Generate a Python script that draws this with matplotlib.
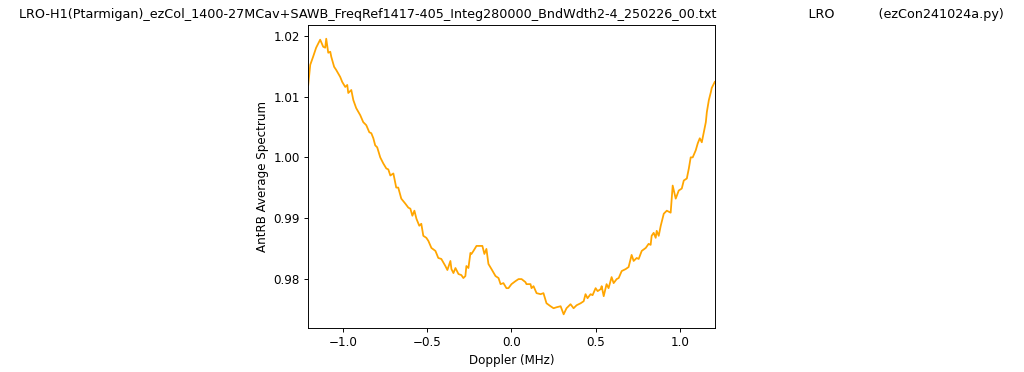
import numpy as np
import matplotlib
matplotlib.use('Agg')
import matplotlib.pyplot as plt

# Doppler (MHz) and AntRB average spectrum
doppler = [-1.208, -1.196, -1.179, -1.161, -1.137, -1.119, -1.107, -1.101, -1.089, -1.077,
           -1.071, -1.054, -1.042, -1.018, -1.006, -0.988, -0.976, -0.970, -0.952, -0.940,
           -0.923, -0.899, -0.881, -0.863, -0.845, -0.833, -0.821, -0.810, -0.798, -0.780,
           -0.762, -0.744, -0.732, -0.720, -0.702, -0.685, -0.673, -0.655, -0.631, -0.613,
           -0.601, -0.589, -0.577, -0.565, -0.548, -0.536, -0.524, -0.506, -0.494, -0.476,
           -0.452, -0.435, -0.417, -0.393, -0.381, -0.363, -0.357, -0.345, -0.333, -0.315,
           -0.298, -0.286, -0.274, -0.268, -0.256, -0.244, -0.238, -0.226, -0.208, -0.185,
           -0.173, -0.161, -0.149, -0.137, -0.119, -0.095, -0.077, -0.065, -0.048, -0.030,
           -0.018, 0.000, 0.024, 0.042, 0.060, 0.083, 0.089, 0.113, 0.119, 0.131,
           0.149, 0.173, 0.190, 0.208, 0.232, 0.250, 0.268, 0.292, 0.310, 0.327,
           0.351, 0.369, 0.387, 0.411, 0.429, 0.440, 0.452, 0.470, 0.482, 0.500,
           0.512, 0.530, 0.536, 0.548, 0.565, 0.577, 0.595, 0.607, 0.625, 0.637,
           0.655, 0.679, 0.696, 0.714, 0.726, 0.744, 0.756, 0.774, 0.798, 0.815,
           0.827, 0.833, 0.845, 0.857, 0.863, 0.875, 0.887, 0.905, 0.923, 0.946,
           0.958, 0.976, 0.994, 1.012, 1.024, 1.042, 1.054, 1.065, 1.077, 1.095,
           1.107, 1.119, 1.131, 1.143, 1.155, 1.161, 1.173, 1.185, 1.190, 1.208]
spectrum = [1.01190, 1.01521, 1.01653, 1.01802, 1.01934, 1.01818, 1.01802, 1.01950, 1.01719, 1.01736,
            1.01653, 1.01488, 1.01438, 1.01322, 1.01240, 1.01157, 1.01190, 1.01058, 1.01107, 1.00942,
            1.00810, 1.00694, 1.00579, 1.00529, 1.00413, 1.00397, 1.00314, 1.00198, 1.00165, 1.00000,
            0.99901, 0.99818, 0.99802, 0.99702, 0.99736, 0.99504, 0.99504, 0.99322, 0.99240, 0.99174,
            0.99157, 0.99041, 0.99124, 0.98992, 0.98876, 0.98909, 0.98711, 0.98678, 0.98628, 0.98512,
            0.98463, 0.98347, 0.98331, 0.98215, 0.98149, 0.98298, 0.98165, 0.98099, 0.98182, 0.98083,
            0.98066, 0.98017, 0.98050, 0.98215, 0.98182, 0.98430, 0.98413, 0.98463, 0.98545, 0.98545,
            0.98545, 0.98413, 0.98496, 0.98248, 0.98165, 0.98050, 0.98017, 0.97917, 0.97934, 0.97851,
            0.97851, 0.97917, 0.97967, 0.98000, 0.98000, 0.97950, 0.97917, 0.97917, 0.97851, 0.97884,
            0.97769, 0.97752, 0.97769, 0.97603, 0.97554, 0.97521, 0.97537, 0.97554, 0.97421, 0.97521,
            0.97587, 0.97521, 0.97570, 0.97603, 0.97636, 0.97752, 0.97686, 0.97752, 0.97736, 0.97851,
            0.97802, 0.97835, 0.97884, 0.97719, 0.97917, 0.97851, 0.98033, 0.97934, 0.98000, 0.98017,
            0.98132, 0.98165, 0.98198, 0.98397, 0.98298, 0.98347, 0.98331, 0.98463, 0.98512, 0.98579,
            0.98562, 0.98711, 0.98760, 0.98678, 0.98793, 0.98711, 0.98876, 0.99074, 0.99124, 0.99091,
            0.99537, 0.99322, 0.99455, 0.99488, 0.99620, 0.99653, 0.99818, 1.00000, 1.00000, 1.00116,
            1.00231, 1.00314, 1.00248, 1.00413, 1.00579, 1.00744, 1.00942, 1.01074, 1.01140, 1.01240]

title = ('LRO-H1(Ptarmigan)_ezCol_1400-27MCav+SAWB_FreqRef1417-405_Integ280000_BndWdth2-4_250226_00.txt'
         + ' ' * 23 + 'LRO' + ' ' * 11 + '(ezCon241024a.py)')

# 12 x 4.36 in figure rendered at ~85 dpi -> 1024 x 372 px
dpi = 1024 / 12
fig, ax = plt.subplots(figsize=(12, 372 / dpi), dpi=dpi)
fig.subplots_adjust(left=0.301, right=0.698, bottom=0.118, top=0.933)

x = np.array(doppler)
ax.plot(x, spectrum, color='orange')
ax.set_xlim(x.min(), x.max())

ax.set_title(title, fontsize=10.8)
ax.set_xlabel('Doppler (MHz)')
ax.set_ylabel('AntRB Average Spectrum')

plt.savefig('out.png', dpi=dpi)
